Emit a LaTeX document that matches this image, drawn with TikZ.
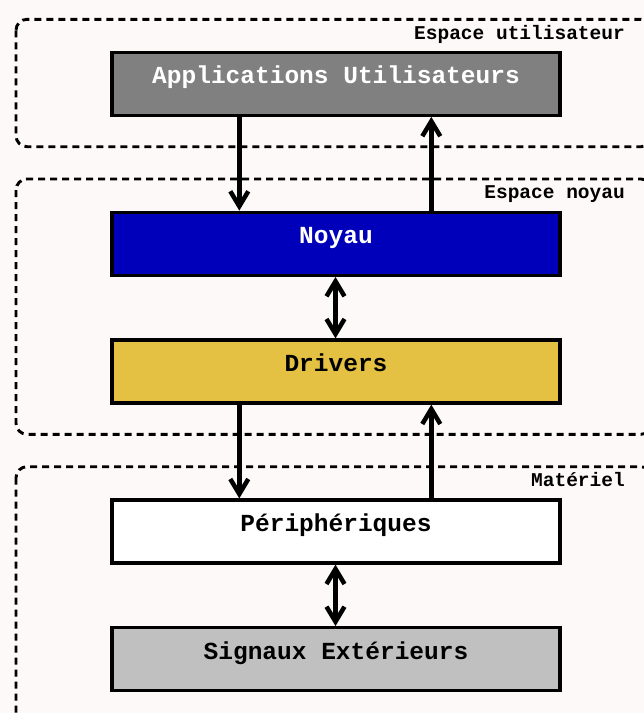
\documentclass[tikz,border=0pt]{standalone}
\usepackage{fontspec}
\setmonofont{Liberation Mono}
\usetikzlibrary{arrows.meta}
\definecolor{paper}{HTML}{FDF9F8}
\definecolor{appgray}{HTML}{808080}
\definecolor{kernelblue}{HTML}{0000BB}
\definecolor{drvyellow}{HTML}{E4C043}
\definecolor{siggray}{HTML}{C0C0C0}
\begin{document}
\begin{tikzpicture}[x=1pt,y=-1pt,
  layer/.style={draw=black, line width=2.9pt, dash pattern=on 7pt off 5pt, rounded corners=11pt},
  block/.style={draw=black, line width=3.3pt, minimum width=448pt, minimum height=63pt,
    inner sep=0pt, text height=0pt, text depth=0pt,
    font=\ttfamily\bfseries\fontsize{24.5}{26}\selectfont},
  zone/.style={font=\ttfamily\bfseries\fontsize{19.5}{21}\selectfont, anchor=base east, inner sep=0pt},
  barb/.tip={Straight Barb[length=15pt,width=18pt]},
  flow/.style={line width=4.5pt, -barb},
  both/.style={line width=4.5pt, barb-barb}
]
\fill[paper] (0,0) rectangle (644,713);
\useasboundingbox (0,0) rectangle (644,713);
\clip (0,0) rectangle (644,713);

% privilege levels
\draw[layer] (16,19.3) rectangle (652,146.7);
\draw[layer] (16,179) rectangle (652,434.3);
\draw[layer] (16,466.7) rectangle (652,760);
\node[zone] (zu) at (625,39.3) {Espace utilisateur};
\node[zone] (zk) at (625,198.3) {Espace noyau};
\node[zone] (zh) at (625,486) {Matériel};

% software and hardware stack
\node[block, fill=appgray, text=white] (app) at (336,83.7) {Applications Utilisateurs};
\node[block, fill=kernelblue, text=white] (noyau) at (336,243.8) {Noyau};
\node[block, fill=drvyellow] (drivers) at (336,371.5) {Drivers};
\node[block, fill=white] (periph) at (336,531.5) {Périphériques};
\node[block, fill=siggray] (signaux) at (336,659.2) {Signaux Extérieurs};

% columns of the connectors
\coordinate (L) at (239.3,0);
\coordinate (R) at (431.3,0);
\coordinate (M) at (335.5,0);

\draw[flow] (app.south -| L) -- (noyau.north -| L);
\draw[flow] (noyau.north -| R) -- (app.south -| R);
\draw[both] (noyau.south -| M) -- (drivers.north -| M);
\draw[flow] (drivers.south -| L) -- (periph.north -| L);
\draw[flow] (periph.north -| R) -- (drivers.south -| R);
\draw[both] (periph.south -| M) -- (signaux.north -| M);
\end{tikzpicture}
\end{document}
